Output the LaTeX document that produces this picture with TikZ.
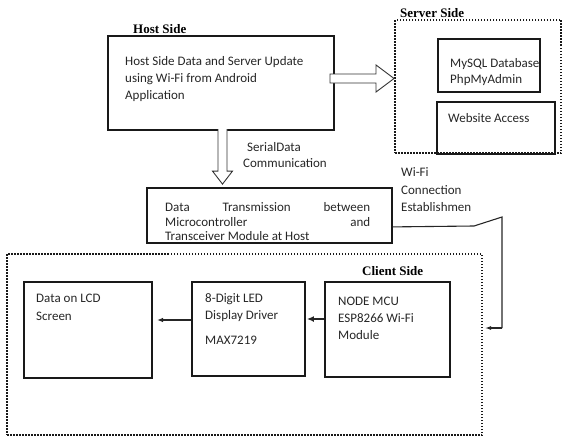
\documentclass[tikz,border=0pt]{standalone}
\usepackage{fontspec}
\setmainfont{Carlito}
\newfontfamily\headfont{Liberation Serif}
\usetikzlibrary{calc,fit,arrows.meta}
\begin{document}
\begin{tikzpicture}[x=1pt,y=-1pt,
  blk/.style={draw=black!90,line width=1.8pt,inner sep=0pt},
  zone/.style={draw=black!90,line width=2pt,dash pattern=on 1.5pt off 1.5pt,inner sep=0pt},
  txt/.style={inner sep=0pt,align=left,text=black!85,font=\fontsize{13}{17}\selectfont},
  head/.style={inner sep=0pt,text=black,font=\headfont\bfseries\fontsize{13}{15}\selectfont},
  hollow/.style={draw=black!80,line width=0.9pt,fill=white,line join=miter},
  wire/.style={draw=black!85,line width=1.1pt},
  arr/.style={draw=black!85,line width=1.1pt,-{Latex[length=6pt,width=4.5pt]}},
]
\useasboundingbox (0,0) rectangle (564,439);
% multi-line texts are placed by the baseline of their last line

% ---- host side ----
\node[head,anchor=base west] (hostlbl) at (133,33) {Host Side};
\node[blk,fit={(108,36) (334,130)}] (host) {};
\node[txt,anchor=base west] (hosttxt) at (125,99.5)
  {Host Side Data and Server Update\\using Wi-Fi from Android\\Application};

% ---- server side ----
\node[zone,fit={(395,20) (561,153)}] (server) {};
\node[head,anchor=base west] (serverlbl) at (400,17.5) {Server Side};
\node[blk,fit={(438,39) (540,92)}] (mysql) {};
\node[txt,anchor=base west,font=\fontsize{13}{16}\selectfont] (mysqltxt) at (450,83.5)
  {MySQL Database\\PhpMyAdmin};
\node[blk,fit={(437,102) (555,154)}] (web) {};
\node[txt,anchor=base west] (webtxt) at (448,122.5) {Website Access};

% hollow arrow: host -> server
\coordinate (rt) at ($(server.west)+(0,-8)$);
\draw[hollow] ($(rt)+(-64,-4.5)$) -- ($(rt)+(-18,-4.5)$) -- ($(rt)+(-18,-13.5)$)
  -- (rt) -- ($(rt)+(-18,13.5)$) -- ($(rt)+(-18,4.5)$) -- ($(rt)+(-64,4.5)$) -- cycle;

% ---- serial link ----
\node[blk,fit={(147,188) (392,243)}] (dt) {};
\coordinate (dn) at ($(dt.north)+(-47,-3)$);
\draw[hollow] ($(dn)+(-4.5,-55)$) -- ($(dn)+(-4.5,-13)$) -- ($(dn)+(-10,-13)$)
  -- (dn) -- ($(dn)+(10,-13)$) -- ($(dn)+(4.5,-13)$) -- ($(dn)+(4.5,-55)$);
\node[txt,anchor=base west,font=\fontsize{13}{16}\selectfont] (serialtxt) at (243,167.5)
  {\hspace*{4pt}SerialData\\Communication};
\node[txt,anchor=base west,font=\fontsize{13}{14.5}\selectfont] (dttxt) at (165,240.5)
  {\hbox to 205pt{Data\hfill Transmission\hfill between}\\
   \hbox to 205pt{Microcontroller\hfill and}\\
   Transceiver Module at Host};

% ---- Wi-Fi link ----
\node[txt,anchor=base west,font=\fontsize{13}{17.5}\selectfont] (wifitxt) at (401,211.5)
  {Wi-Fi\\Connection\\Establishmen};
\coordinate (wA) at (474,226);
\coordinate (wB) at (502,217);
\coordinate (wC) at (502,328);
\coordinate (wD) at (485,328);
\draw[wire] ($(dt.south east)+(0,-17)$) -- (wA) -- (wB) -- (wC);
\draw[arr,-{Latex[length=6pt,width=4pt]}] (wC) -- (wD);

% ---- client side ----
\node[zone,fit={(7,254) (482,435)}] (client) {};
\node[head,anchor=base west] (clientlbl) at (362,275) {Client Side};
\node[blk,fit={(24,282) (152,378)}] (lcd) {};
\node[txt,anchor=base west,font=\fontsize{13}{18}\selectfont] (lcdtxt) at (36,320.5)
  {Data on LCD\\Screen};
\node[blk,fit={(192,282) (305,376)}] (led) {};
\node[txt,anchor=base west] (ledtxt) at (205,344.5)
  {8-Digit LED\\Display Driver\\[8pt]MAX7219};
\node[blk,fit={(325,282) (450,377)}] (mcu) {};
\node[txt,anchor=base west] (mcutxt) at (338,339.5)
  {NODE MCU\\ESP8266 Wi-Fi\\Module};

\coordinate (lcdin) at (157,320);
\draw[arr] ($(led.west)+(0,-9)$) -- (lcdin);
\draw[arr,line width=1.4pt,-{Latex[length=7pt,width=6pt]}] ($(mcu.west)+(0,-10.5)$) -- ($(led.east)+(1,-10)$);
\end{tikzpicture}
\end{document}
